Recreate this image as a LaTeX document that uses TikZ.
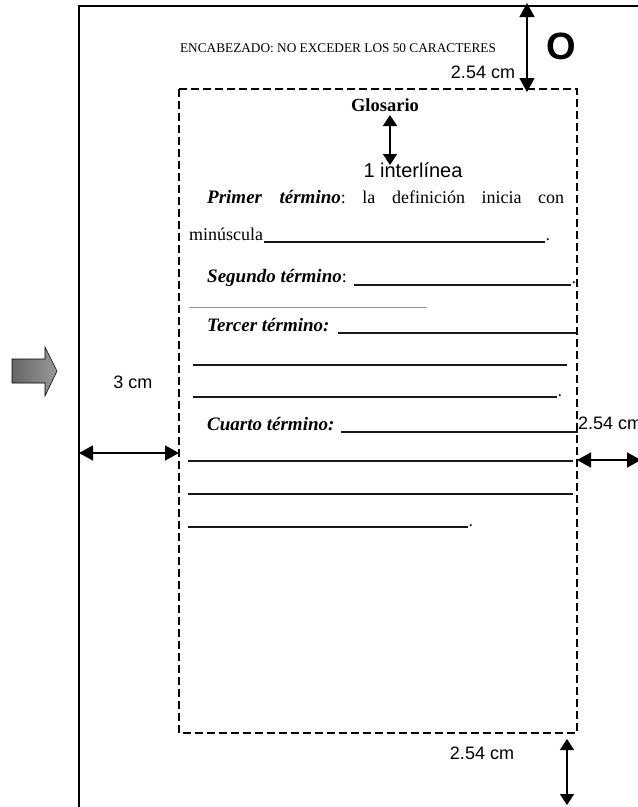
\documentclass[tikz,border=0pt]{standalone}
\usepackage{fontspec}
\setmainfont{Liberation Serif}
\setsansfont{Liberation Sans}
\usetikzlibrary{arrows.meta}
\frenchspacing
\definecolor{ink}{RGB}{25,25,25}
\definecolor{faint}{RGB}{150,150,150}
\newcommand{\txtbody}{\fontsize{18pt}{21pt}\selectfont}
\newcommand{\txtterm}{\fontsize{19pt}{22pt}\selectfont\bfseries\itshape}
\newcommand{\txtlabel}{\sffamily\fontsize{18pt}{21pt}\selectfont}
\newcommand{\txthead}{\fontsize{13.3pt}{15pt}\selectfont}

\begin{document}
\begin{tikzpicture}[x=1pt,y=-1pt,
    gap/.style={line width=1.5pt,{Triangle[length=14pt,width=15pt]}-{Triangle[length=14pt,width=15pt]}},
    smallgap/.style={line width=1.5pt,{Triangle[length=11pt,width=14pt]}-{Triangle[length=11pt,width=14pt]}},
    blank/.style={ink,line width=1.1pt},
    body/.style={inner sep=0pt,font=\txtbody},
    lbl/.style={inner sep=0pt,font=\txtlabel}]
  \useasboundingbox (0,0) rectangle (638,807);
  \clip (0,0) rectangle (638,807);
  % page edge and text area
  \draw[line width=1.5pt] (79,810) -- (79,6) -- (642,6);
  \draw[line width=1.6pt,dash pattern=on 8pt off 4pt] (179,89) rectangle (577,733);
  \shade[draw=black,line width=0.6pt,left color=black!60,middle color=white,right color=black!40]
    (12,359) -- (45,359) -- (45,347) -- (57,371) -- (45,396) -- (45,383) -- (12,383) -- cycle;

  % header and title
  \node[inner sep=0pt,font=\txthead] (header) at (338,48) {ENCABEZADO: NO EXCEDER LOS 50 CARACTERES};
  \node[inner sep=0pt,font=\sffamily\bfseries\fontsize{38pt}{40pt}\selectfont] (mark) at (561,46) {O};
  \node[lbl] (topgap) at (483,72) {2.54 cm};
  \node[body,font=\fontsize{18.5pt}{21pt}\selectfont\bfseries] (title) at (385,105) {Glosario};
  \node[lbl,font=\sffamily\fontsize{20pt}{22pt}\selectfont] (spacing) at (413,170) {1 interlínea};

  % entries
  \node[body,anchor=base west] (first) at (207,203)
    {\makebox[357pt][s]{{\txtterm Primer término}: la definición inicia con}};
  \node[body,anchor=base west] (firstb) at (189,240) {minúscula};
  \draw[blank] (firstb.base east) ++(1,2) -- (545,242) node[body,anchor=base west] (dot1) at (545,240) {.};
  \node[body,anchor=base west] (second) at (207,282) {{\txtterm Segundo término}:};
  \draw[blank] (354,285) -- (571,285) node[body,anchor=base west] (dot2) at (571,283) {.};
  \draw[faint,line width=0.6pt] (189,307) -- (427,307);
  \node[body,anchor=base west] (third) at (207,331) {{\txtterm Tercer término:}};
  \draw[blank] (338,333) -- (578,333);
  \draw[blank] (193,365) -- (567,365);
  \draw[blank] (193,397) -- (557,397) node[body,anchor=base west] (dot3) at (557,396) {.};
  \node[body,anchor=base west] (fourth) at (207,430) {{\txtterm Cuarto término:}};
  \draw[blank] (341,432) -- (578,432);
  \draw[blank] (188,461) -- (573,461);
  \draw[blank] (188,494) -- (573,494);
  \draw[blank] (188,527) -- (468,527) node[body,anchor=base west] (dot4) at (468,526) {.};

  % margin labels
  \node[lbl] (leftgap) at (133,382) {3 cm};
  \node[lbl,anchor=west] (rightgap) at (578,423) {2.54 cm};
  \node[lbl] (bottomgap) at (482,753) {2.54 cm};

  % margin arrows
  \coordinate (pagetop) at (527,3);
  \coordinate (boxtop) at (527,92);
  \coordinate (titlebase) at (390,115);
  \coordinate (lineone) at (390,165);
  \coordinate (pageleft) at (79,453);
  \coordinate (boxleft) at (179,453);
  \coordinate (boxright) at (577,460);
  \coordinate (pageright) at (641,460);
  \coordinate (boxbottom) at (567,739);
  \coordinate (pagebottom) at (567,805);
  \draw[gap] (pagetop) -- (boxtop);
  \draw[smallgap] (titlebase) -- (lineone);
  \draw[gap] (pageleft) -- (boxleft);
  \draw[gap] (boxright) -- (pageright);
  \draw[smallgap] (boxbottom) -- (pagebottom);
\end{tikzpicture}
\end{document}
